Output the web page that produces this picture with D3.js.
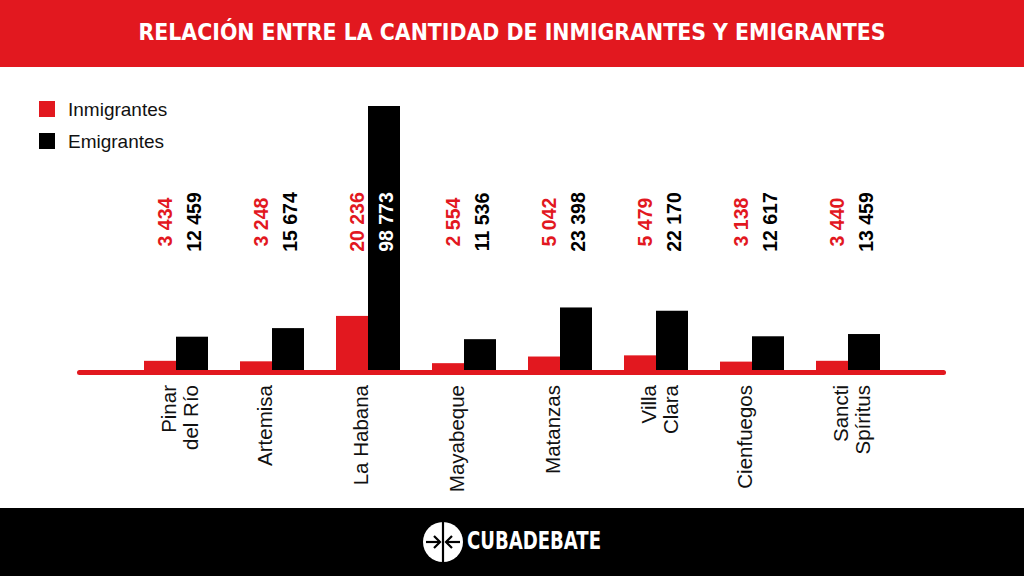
<!DOCTYPE html>
<html>
<head>
<meta charset="utf-8">
<script src="https://cdn.jsdelivr.net/npm/d3@7"></script>
<style>
  body { margin: 0; background: #fff; }
  svg { display: block; font-family: "Liberation Sans", Arial, sans-serif; }
</style>
</head>
<body>
<div class="chart"></div>
<script>
// data
const categories = ["Pinar del Río", "Artemisa", "La Habana", "Mayabeque", "Matanzas", "Villa Clara", "Cienfuegos", "Sancti Spíritus"];
const labelLines = [["Pinar", "del Río"], ["Artemisa"], ["La Habana"], ["Mayabeque"], ["Matanzas"], ["Villa", "Clara"], ["Cienfuegos"], ["Sancti", "Spíritus"]];
const inmigrantes = [3434, 3248, 20236, 2554, 5042, 5479, 3138, 3440];
const emigrantes = [12459, 15674, 98773, 11536, 23398, 22170, 12617, 13459];
const seriesNames = ["Inmigrantes", "Emigrantes"];

const W = 1024, H = 576;
const red = "#e2181f";
const baseY = 370;

const svg = d3.select('.chart')
    .append('svg')
    .attr('width', W)
    .attr('height', H);

// header
svg.append('rect')
    .attr('width', W).attr('height', 67)
    .attr('fill', red);
svg.append('text')
    .attr('x', W / 2)
    .attr('y', 40)
    .attr('text-anchor', 'middle')
    .attr('fill', '#fff')
    .attr('textLength', 747)
    .attr('lengthAdjust', 'spacingAndGlyphs')
    .style('font-family', '"Liberation Sans Narrow", "DejaVu Sans Condensed", sans-serif')
    .style('font-weight', 'bold')
    .style('font-size', '23px')
    .text('RELACIÓN ENTRE LA CANTIDAD DE INMIGRANTES Y EMIGRANTES');

// scales
const x0 = d3.scaleBand()
    .domain(categories)
    .range([128, 896])
    .paddingInner(1 / 3)
    .paddingOuter(1 / 6);

const x1 = d3.scaleBand()
    .domain(seriesNames)
    .range([0, x0.bandwidth()]);

const y = d3.scaleLinear()
    .domain([0, d3.max(emigrantes)])
    .range([baseY, 106]);

const color = d3.scaleOrdinal()
    .domain(seriesNames)
    .range([red, '#000']);

const rows = categories.map((c, i) => ({
    cat: c,
    lines: labelLines[i],
    vals: [
        { key: "Inmigrantes", value: inmigrantes[i] },
        { key: "Emigrantes", value: emigrantes[i] }
    ]
}));

const fmt = d3.formatLocale({ decimal: ",", thousands: " ", grouping: [3], currency: ["", ""] }).format(",");

// bars
const groups = svg.selectAll('.group')
    .data(rows)
    .enter()
    .append('g')
    .attr('class', 'group')
    .attr('transform', d => `translate(${x0(d.cat)}, 0)`);

groups.selectAll('rect')
    .data(d => d.vals)
    .enter()
    .append('rect')
    .attr('x', d => x1(d.key))
    .attr('y', d => y(d.value))
    .attr('width', x1.bandwidth())
    .attr('height', d => baseY - y(d.value))
    .attr('fill', d => color(d.key));

// value labels (rotated), white when the bar reaches them
const labelY = 222;
groups.selectAll('.val')
    .data(d => d.vals)
    .enter()
    .append('text')
    .attr('class', 'val')
    .attr('transform', d => {
        const cx = d.key === "Inmigrantes" ? x0.bandwidth() / 2 - 4.5 : x0.bandwidth() / 2 + 25;
        return `translate(${cx}, ${labelY}) rotate(-90)`;
    })
    .attr('text-anchor', 'middle')
    .attr('fill', d => d.key === "Inmigrantes" ? red : (y(d.value) < 190 ? '#fff' : '#000'))
    .style('font-weight', 'bold')
    .style('font-size', '19.5px')
    .text(d => fmt(d.value));

// baseline
svg.append('line')
    .attr('x1', 79.5)
    .attr('x2', 943.5)
    .attr('y1', baseY + 2.5)
    .attr('y2', baseY + 2.5)
    .attr('stroke', red)
    .attr('stroke-width', 5)
    .attr('stroke-linecap', 'round');

// category labels
const catText = groups.append('text')
    .attr('transform', `translate(${x0.bandwidth() / 2}, 385) rotate(-90)`)
    .attr('text-anchor', 'end')
    .attr('fill', '#111')
    .style('font-size', '20.5px');

catText.selectAll('tspan')
    .data(d => d.lines)
    .enter()
    .append('tspan')
    .attr('x', 0)
    .attr('y', (d, i) => i * 22)
    .text(d => d);

// legend
const legend = svg.selectAll('.legend')
    .data(seriesNames)
    .enter()
    .append('g')
    .attr('class', 'legend')
    .attr('transform', (d, i) => `translate(39, ${101 + i * 32})`);

legend.append('rect')
    .attr('width', 16)
    .attr('height', 16)
    .attr('fill', d => color(d));

legend.append('text')
    .attr('x', 29)
    .attr('y', 15)
    .attr('fill', '#111')
    .style('font-size', '19px')
    .text(d => d);

// footer
svg.append('rect')
    .attr('y', 508)
    .attr('width', W)
    .attr('height', H - 508)
    .attr('fill', '#000');

const logo = svg.append('g').attr('transform', 'translate(443, 542)');
logo.append('circle').attr('r', 20).attr('fill', '#fff');
logo.append('line')
    .attr('x1', 0).attr('x2', 0).attr('y1', -21).attr('y2', 21)
    .attr('stroke', '#000').attr('stroke-width', 2.2);
logo.append('line')
    .attr('x1', -17).attr('x2', -3).attr('y1', 0).attr('y2', 0)
    .attr('stroke', '#000').attr('stroke-width', 2.2);
logo.append('line')
    .attr('x1', 3).attr('x2', 17).attr('y1', 0).attr('y2', 0)
    .attr('stroke', '#000').attr('stroke-width', 2.2);
logo.append('path')
    .attr('d', 'M-9,-6 L-3,0 L-9,6 M9,-6 L3,0 L9,6')
    .attr('fill', 'none')
    .attr('stroke', '#000')
    .attr('stroke-width', 2.2);

svg.append('text')
    .attr('x', 467)
    .attr('y', 549)
    .attr('fill', '#fff')
    .attr('textLength', 134)
    .attr('lengthAdjust', 'spacingAndGlyphs')
    .style('font-family', '"Liberation Sans Narrow", "DejaVu Sans Condensed", sans-serif')
    .style('font-weight', 'bold')
    .style('font-size', '24px')
    .text('CUBADEBATE');
</script>
</body>
</html>
